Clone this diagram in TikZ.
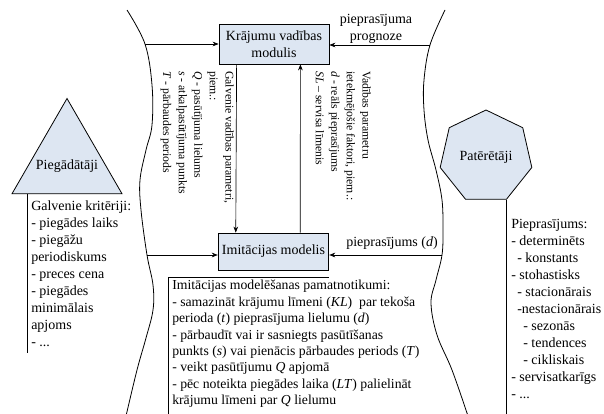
\documentclass[tikz,border=0pt]{standalone}
\usepackage{fontspec}
\setmainfont{Liberation Serif}
\usetikzlibrary{arrows.meta,shapes.geometric,calc}
\definecolor{boxfill}{RGB}{221,230,242}
\begin{document}
\begin{tikzpicture}[x=0.75pt,y=-0.75pt,
  every node/.style={font=\fontsize{10.5}{12.75}\selectfont, inner sep=0pt},
  blockbox/.style={draw, fill=boxfill, line width=0.6pt, align=center},
  actor/.style={draw, fill=boxfill, line width=0.6pt, regular polygon},
  flow/.style={-{Stealth[length=4.5pt,width=3.5pt]}, line width=0.5pt},
  wave/.style={line width=0.6pt},
  sidetext/.style={rotate=-90, anchor=north west, align=left, font=\fontsize{8.8}{11.7}\selectfont},
  listtext/.style={anchor=north west, align=left},
  rule/.style={line width=0.6pt}
]
\useasboundingbox (0,0) rectangle (604,414);
\clip (0,0) rectangle (604,414);

% wavy boundaries of the inventory system
\draw[wave] plot[smooth, tension=0.6] coordinates {(127,10) (145,44) (152,85) (152,125) (146,150) (140,180) (141,210) (147,255) (153,285) (153,310) (146,338) (137,370) (126,416)};
\draw[wave] plot[smooth, tension=0.6] coordinates {(445,10) (430,45) (424,80) (424,110) (428,140) (436,170) (442,200) (443,230) (442,255) (436,280) (431,303) (437,335) (452,370) (468,416)};
\coordinate (lw1) at (145,44);
\coordinate (lw2) at (147,255);
\coordinate (rw1) at (430,45);
\coordinate (rw2) at (442,255);
\coordinate (bottom) at (0,416);

% modules
\node[blockbox, minimum width=82.5pt, minimum height=30pt] (kvm) at (274,44) {Krājumu vadības\\modulis};
\node[blockbox, minimum width=83pt, minimum height=27.75pt] (imm) at (273.5,251.5) {Imitācijas modelis};

% flows
\draw[flow] (lw1) -- (lw1 -| kvm.west);
\draw[flow] (lw2) -- (lw2 -| imm.west);
\draw[flow] (rw1) -- (rw1 -| kvm.east);
\draw[flow] (rw2) -- (rw2 -| imm.east);
\draw[flow] ([xshift=13.5pt]kvm.south west) -- ([xshift=13.5pt]imm.north west);
\draw[flow] ([xshift=-21.75pt]imm.north east) -- ([xshift=-21.75pt]kvm.south east);

\node[align=center] (prog) at (376,29) {pieprasījuma\\prognoze};
\node[anchor=south east] (dem) at (438,250) {pieprasījums (\textit{d})};

\node[sidetext] (ctrl) at (234,71) {Galvenie vadības parametri,\\piem.:\\\textit{Q} - pasūtījuma lielums\\\textit{s} - atkalpasūtījuma punkts\\\textit{T} - pārbaudes periods};
\node[sidetext] (fact) at (371,71) {Vadības parametru\\ietekmējošie faktori, piem.:\\\textit{d} - reāls pieprasījums\\\textit{SL} – servisa līmenis};

% suppliers
\node[actor, regular polygon sides=3, minimum size=95.25pt] (sup) at (67,162) {};
\node (supl) at (67,166) {Piegādātāji};
\coordinate (lbase) at ($(sup.corner 2)+(16,0)$);
\coordinate (lend) at (28,353);
\draw[rule] (lbase) -- (lbase |- lend);
\node[listtext] (crit) at (31,201) {Galvenie kritēriji:\\- piegādes laiks\\- piegāžu\\periodiskums\\- preces cena\\- piegādes\\minimālais\\apjoms\\- ...};

% consumers
\node[actor, regular polygon sides=7, minimum size=70.5pt] (cons) at (486,157) {Patērētāji};
\draw[rule] (cons.corner 5) -- (cons.corner 5 |- bottom);
\node[listtext] (dmd) at (511,219) {Pieprasījums:\\- determinēts\\\hspace*{4.5pt}- konstants\\- stohastisks\\\hspace*{4.5pt}- stacionārais\\\hspace*{4.5pt}-nestacionārais\\\hspace*{9pt}- sezonās\\\hspace*{9pt}- tendences\\\hspace*{9pt}- cikliskais\\- servisatkarīgs\\- ...};

% simulation events
\coordinate (rtop) at (168,277);
\draw[rule] (rtop |- bottom) -- (rtop) -- (rtop -| imm.east);
\node[listtext, font=\fontsize{10.3}{12.3}\selectfont] (events) at (172,280) {Imitācijas modelēšanas pamatnotikumi:\\- samazināt krājumu līmeni (\textit{KL})\ \ par tekoša\\perioda (\textit{t}) pieprasījuma lielumu (\textit{d})\\- pārbaudīt vai ir sasniegts pasūtīšanas\\punkts (\textit{s}) vai pienācis pārbaudes periods (\textit{T})\\- veikt pasūtījumu \textit{Q} apjomā\\- pēc noteikta piegādes laika (\textit{LT}) palielināt\\krājumu līmeni par \textit{Q} lielumu};
\end{tikzpicture}
\end{document}
